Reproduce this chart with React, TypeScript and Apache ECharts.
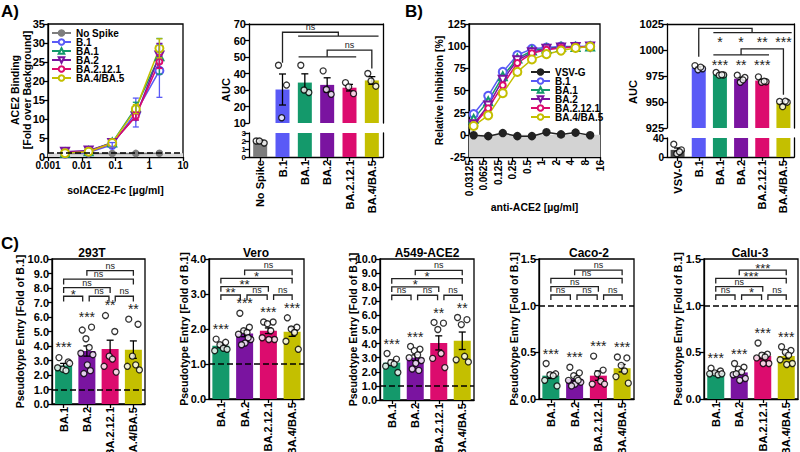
import React, { useEffect, useRef } from 'react';
import * as echarts from 'echarts';

const FONT = '"Liberation Sans", Arial, Helvetica, sans-serif';

// ---------- colours ----------
const COL_NOSPIKE = '#7d7d7d';
const COL_VSVG = '#4a4a4a';
const COL_B1 = '#5a5af6';
const COL_BA1 = '#14996b';
const COL_BA2 = '#7a14a0';
const COL_BA2121 = '#dc0c6e';
const COL_BA45 = '#c4bf00';

// ---------- Panel A left: ACE2 binding ----------
const concA = [0.0032, 0.016, 0.08, 0.4, 2];
const bindNoSpike = [0.95, 0.95, 0.9, 0.95, 1.0];
const bindB1 = [0.9, 1.2, 3.2, 11.7, 22.7];
const bindBA1 = [1.1, 1.5, 3.8, 13.0, 26.5];
const bindBA2 = [1.4, 1.7, 3.7, 10.7, 26.7];
const bindBA2121 = [1.1, 1.4, 3.6, 10.8, 25.1];
const bindBA45 = [1.0, 1.4, 3.7, 12.6, 28.6];
const errB1 = [0.1, 0.1, 0.6, 3.8, 7.0];
const errBA1 = [0.1, 0.1, 0.3, 1.4, 4.7];
const errBA2 = [0.1, 0.1, 0.3, 1.0, 3.2];
const errBA2121 = [0.1, 0.1, 0.2, 1.0, 1.8];
const errBA45 = [0.1, 0.1, 0.2, 1.2, 2.5];

// ---------- Panel A right: AUC ----------
const aucACats = ['No Spike', 'B.1', 'BA.1', 'BA.2', 'BA.2.12.1', 'BA.4/BA.5'];
const aucAMean = [2.0, 30.3, 34.5, 33.1, 31.4, 35.8];
const aucASem = [0.1, 9.4, 5.3, 4.3, 2.0, 2.3];
const aucAPts = [[2.0, 1.75, 2.0], [45, 33, 13.2], [45, 28.5, 30], [41.6, 27.4, 30.3], [34.5, 27.8, 31.9], [40, 32.3, 35.5]];

// ---------- Panel B left: inhibition ----------
const concB = [0.039, 0.078, 0.156, 0.3125, 0.625, 1.25, 2.5, 5, 10];
const inhVSVG = [-0.5, -1.5, 2, -1.5, -1.5, 3, 0.5, 2.5, -0.5];
const inhB1 = [23.5, 44, 71, 90, 97, 98.5, 99.5, 99.7, 99.8];
const inhBA1 = [18, 38, 66, 86, 95, 97.5, 99, 99.2, 99.5];
const inhBA2 = [12, 33, 62, 84, 93, 97, 98.5, 99, 99.5];
const inhBA2121 = [11, 30, 56, 81, 92, 96, 98, 99, 99.5];
const inhBA45 = [10, 22, 47, 71, 85, 91, 95, 98, 99.5];

// ---------- Panel B right: AUC ----------
const aucBCats = ['VSV-G', 'B.1', 'BA.1', 'BA.2', 'BA.2.12.1', 'BA.4/BA.5'];
const aucBMean = [15, 983, 976.6, 972.4, 970.6, 949.2];
const aucBSem = [4, 1.0, 0.6, 1.5, 1.2, 1.3];
const aucBPts = [[27, 15, 7, 11], [985, 982, 981, 983.5], [978.4, 976, 975.8, 976.2], [975.8, 973.6, 969, 971.3], [974.2, 969.5, 969, 970], [950.5, 949.8, 945.5, 950.8]];
const aucBStarsTop = ['*', '*', '**', '***'];
const aucBStarsLow = ['***', '**', '***'];

// ---------- Panel C: pseudotype entry ----------
const cVariants = ['BA.1', 'BA.2', 'BA.2.12.1', 'BA.4/BA.5'];
const cCells = ['293T', 'Vero', 'A549-ACE2', 'Caco-2', 'Calu-3'];
const cAxisMax = [10, 4, 10, 1.5, 1.5];
const cAxisStep = [1, 1, 1, 0.5, 0.5];

const c293Mean = [2.65, 3.65, 3.8, 3.75];
const c293Sem = [0.15, 0.35, 0.6, 0.6];
const c293Pts = [[3.2, 2.9, 2.4, 2.3, 2.5, 2.8], [5.1, 5.3, 4.5, 3.9, 3.5, 3.4, 2.7, 2.1, 2.3], [6.1, 5.0, 3.3, 3.1, 2.6, 2.2], [5.85, 5.5, 3.3, 2.7, 2.6, 2.35]];
const c293Stars = ['***', '***', '**', '**'];
const c293Pairs = ['*', 'ns', 'ns', 'ns', 'ns', 'ns'];

const cVeroMean = [1.52, 1.87, 1.95, 1.92];
const cVeroSem = [0.05, 0.09, 0.08, 0.13];
const cVeroPts = [[1.71, 1.62, 1.55, 1.45, 1.38, 1.42], [2.45, 2.05, 1.95, 1.9, 1.85, 1.7, 1.6, 1.55, 1.75], [2.2, 2.2, 2.15, 1.95, 1.75, 1.7, 1.7], [2.32, 2.05, 2.0, 1.9, 1.65, 1.42]];
const cVeroStars = ['***', '***', '***', '***'];
const cVeroPairs = ['**', 'ns', 'ns', '**', '*', 'ns'];

const cA549Mean = [2.65, 3.0, 4.05, 4.2];
const cA549Sem = [0.18, 0.2, 0.5, 0.62];
const cA549Pts = [[3.3, 2.9, 2.65, 2.55, 2.4, 1.95], [3.8, 3.6, 3.5, 3.2, 3.0, 2.8, 2.6, 2.2, 2.1], [5.5, 5.45, 5.0, 3.3, 2.95, 2.3], [5.85, 5.7, 5.35, 3.1, 2.85, 2.7]];
const cA549Stars = ['***', '***', '**', '**'];
const cA549Pairs = ['ns', 'ns', 'ns', '*', '*', 'ns'];

const cCacoMean = [0.25, 0.215, 0.25, 0.33];
const cCacoSem = [0.03, 0.02, 0.05, 0.04];
const cCacoPts = [[0.38, 0.27, 0.26, 0.25, 0.2, 0.14], [0.34, 0.28, 0.25, 0.22, 0.2, 0.18, 0.16, 0.14, 0.2], [0.46, 0.31, 0.27, 0.19, 0.16, 0.16], [0.45, 0.44, 0.36, 0.3, 0.24, 0.17]];
const cCacoStars = ['***', '***', '***', '***'];
const cCacoPairs = ['ns', 'ns', 'ns', 'ns', 'ns', 'ns'];

const cCaluMean = [0.285, 0.285, 0.46, 0.46];
const cCaluSem = [0.01, 0.02, 0.03, 0.03];
const cCaluPts = [[0.33, 0.3, 0.28, 0.26, 0.27, 0.27], [0.38, 0.34, 0.32, 0.29, 0.26, 0.22, 0.2, 0.27], [0.6, 0.48, 0.47, 0.45, 0.44, 0.38, 0.38], [0.56, 0.52, 0.5, 0.47, 0.42, 0.38, 0.37]];
const cCaluStars = ['***', '***', '***', '***'];
const cCaluPairs = ['ns', '*', 'ns', 'ns', '***', '***'];

// ---------- layout (not data) ----------
const JIT = [-0.2, 0.2, -0.04, 0.1, -0.26, 0.26, 0.02, -0.13, 0.15];
const PAIRS = [[0, 1], [1, 2], [2, 3], [0, 2], [0, 3], [1, 3]];
const PAIR_LEVEL = [0, 0, 0, 1, 2, 3];
const ADJ_INSET = [[0, 0.18], [0.1, 0.05], [0.22, 0]];
const C_GRIDS = [[52, 259, 93, 145], [209, 259, 95, 140], [380, 259, 94, 141], [539, 259, 95, 140], [704, 259, 94, 140]];
const C_NAMEGAP = [27, 20, 22, 20, 21];
const C_TITLE_X = [92, 256, 427, 589, 750];

const fmtNum = (v: number) => String(Number(Number(v).toPrecision(6)));

function buildOption() {
  const grid: any[] = [];
  const xAxis: any[] = [];
  const yAxis: any[] = [];
  const series: any[] = [];
  const LW = 1.3;
  const line = (show: boolean) => ({ show, onZero: false, lineStyle: { color: '#000', width: LW } });
  const tick = (show: boolean, align = false) => ({ show, length: 4, alignWithLabel: align, lineStyle: { color: '#000', width: LW } });
  const lbl = (size: number, extra: any = {}) => ({
    show: true, color: '#000', fontFamily: FONT, fontWeight: 'bold', fontSize: size, margin: 3,
    hideOverlap: false, showMinLabel: true, showMaxLabel: true, formatter: fmtNum, ...extra,
  });
  const nameTS = (size: number, extra: any = {}) => ({ color: '#000', fontFamily: FONT, fontWeight: 'bold', fontSize: size, ...extra });
  const addGrid = (l: number, t: number, w: number, h: number, border: boolean) => {
    grid.push({ left: l, top: t, width: w, height: h, show: border, borderColor: '#000', borderWidth: LW, backgroundColor: 'transparent', containLabel: false, outerBoundsMode: 'none' });
    return grid.length - 1;
  };
  const addX = (a: any) => { xAxis.push(a); return xAxis.length - 1; };
  const addY = (a: any) => { yAxis.push(a); return yAxis.length - 1; };

  const makeBarAxes = (gi: number, cats: string[], yMin: number, yMax: number, interval: number, o: any) => {
    const cx = addX({
      type: 'category', gridIndex: gi, data: cats, position: 'bottom', boundaryGap: true,
      axisLine: line(!!o.catLine), axisTick: tick(!!o.catLine, true),
      axisLabel: o.catLine ? lbl(o.catSize || 11, { rotate: 90, interval: 0, formatter: null }) : { show: false },
      splitLine: { show: false },
    });
    const vx = addX({
      type: 'value', gridIndex: gi, min: -0.5, max: cats.length - 0.5, position: 'top',
      axisLine: line(!!o.topLine), axisTick: { show: false }, axisLabel: { show: false }, splitLine: { show: false },
    });
    const y = addY({
      type: 'value', gridIndex: gi, min: yMin, max: yMax, interval, position: 'left',
      axisLine: line(true), axisTick: tick(true), axisLabel: lbl(o.ySize || 11, o.yFmt ? { formatter: o.yFmt } : {}),
      splitLine: { show: false },
      name: o.yName || '', nameLocation: 'middle', nameGap: o.yNameGap || 0, nameRotate: 90, nameMoveOverlap: false,
      nameTextStyle: nameTS(10.5),
    });
    if (o.rightLine) {
      addY({ type: 'value', gridIndex: gi, min: yMin, max: yMax, interval, position: 'right', axisLine: line(true), axisTick: { show: false }, axisLabel: { show: false }, splitLine: { show: false } });
    }
    return { cx, vx, y };
  };

  const addErr = (xi: number, yi: number, items: any[], color: string, cap: number) => {
    if (!items.length) return;
    series.push({
      type: 'custom', xAxisIndex: xi, yAxisIndex: yi, silent: true, z: 4,
      data: items.map((d) => [d.x, d.y]),
      renderItem: (params: any, api: any) => {
        const d = items[params.dataIndex];
        const t = api.coord([d.x, d.y + d.e]);
        const b = api.coord([d.x, d.y - d.e]);
        const st = { stroke: color, lineWidth: LW, fill: 'none' };
        return {
          type: 'group', children: [
            { type: 'line', shape: { x1: t[0], y1: t[1], x2: b[0], y2: b[1] }, style: st },
            { type: 'line', shape: { x1: t[0] - cap, y1: t[1], x2: t[0] + cap, y2: t[1] }, style: st },
            { type: 'line', shape: { x1: b[0] - cap, y1: b[1], x2: b[0] + cap, y2: b[1] }, style: st },
          ],
        };
      },
    });
  };

  const addLines = (xi: number, yi: number, lines: number[][][]) => {
    series.push({
      type: 'custom', xAxisIndex: xi, yAxisIndex: yi, silent: true, z: 6,
      data: lines.map((l) => l[0]),
      renderItem: (params: any, api: any) => {
        const pts = lines[params.dataIndex].map((p) => api.coord(p));
        return { type: 'polyline', shape: { points: pts }, style: { stroke: '#222', lineWidth: LW, fill: 'none' } };
      },
    });
  };

  const addTexts = (xi: number, yi: number, items: any[]) => {
    series.push({
      type: 'custom', xAxisIndex: xi, yAxisIndex: yi, silent: true, z: 7,
      data: items.map((t) => [t.x, t.y]),
      renderItem: (params: any, api: any) => {
        const t = items[params.dataIndex];
        const p = api.coord([t.x, t.y]);
        const va = t.va || 'bottom';
        return {
          type: 'text', x: p[0], y: p[1] + (t.dy || 0),
          style: {
            text: t.text, fill: '#222', textFill: '#222', fontSize: t.size, fontFamily: FONT, fontWeight: t.weight || 'normal',
            align: 'center', textAlign: 'center', verticalAlign: va, textVerticalAlign: va,
          },
        };
      },
    });
  };

  const addBarSet = (ax: any, means: number[], sems: number[], pts: number[][], colors: string[], barWidth: number, spread: number, yMin: number, yMax: number, cap: number, extra: any = {}) => {
    series.push({
      type: 'bar', xAxisIndex: ax.cx, yAxisIndex: ax.y, barWidth, clip: true, silent: true, z: 2,
      data: means.map((v, i) => ({ value: v, itemStyle: { color: colors[i] } })),
      ...extra,
    });
    const errItems: any[] = [];
    means.forEach((m, i) => {
      if (m - sems[i] >= yMin && m + sems[i] <= yMax) errItems.push({ x: i, y: m, e: sems[i] });
    });
    addErr(ax.vx, ax.y, errItems, '#000', cap);
    const dots: number[][] = [];
    pts.forEach((arr, i) => arr.forEach((v, k) => {
      if (v >= yMin && v <= yMax) dots.push([i + JIT[k % JIT.length] * spread, v]);
    }));
    series.push({
      type: 'scatter', xAxisIndex: ax.vx, yAxisIndex: ax.y, data: dots, symbol: 'circle', symbolSize: 6, clip: true, silent: true, z: 5,
      itemStyle: { color: '#fff', borderColor: '#000', borderWidth: 1.3 },
    });
  };

  const dashed1 = (y: number) => ({
    silent: true, symbol: ['none', 'none'], label: { show: false },
    lineStyle: { color: '#000', type: 'dashed', width: 1.5 }, data: [{ yAxis: y }],
  });

  // ================= Panel A left =================
  const gA = addGrid(48, 24, 135, 133, true);
  const xA = addX({
    type: 'log', logBase: 10, gridIndex: gA, min: 0.001, max: 10, position: 'bottom',
    axisLine: line(true), axisTick: tick(true), axisLabel: lbl(10),
    splitLine: { show: false }, name: 'solACE2-Fc [µg/ml]', nameLocation: 'middle', nameGap: 27, nameMoveOverlap: false, nameTextStyle: nameTS(10.5),
  });
  const yA = addY({
    type: 'value', gridIndex: gA, min: 0, max: 35, interval: 5,
    axisLine: line(true), axisTick: tick(true), axisLabel: lbl(11), splitLine: { show: false },
  });
  const aDefs = [
    { name: 'No Spike', vals: bindNoSpike, errs: null, color: COL_NOSPIKE, symbol: 'circle', size: 6, rot: 0 },
    { name: 'B.1', vals: bindB1, errs: errB1, color: COL_B1, symbol: 'emptyCircle', size: 8, rot: 0 },
    { name: 'BA.1', vals: bindBA1, errs: errBA1, color: COL_BA1, symbol: 'emptyTriangle', size: 8, rot: 0 },
    { name: 'BA.2', vals: bindBA2, errs: errBA2, color: COL_BA2, symbol: 'emptyTriangle', size: 8, rot: 180 },
    { name: 'BA.2.12.1', vals: bindBA2121, errs: errBA2121, color: COL_BA2121, symbol: 'emptyCircle', size: 6, rot: 0 },
    { name: 'BA.4/BA.5', vals: bindBA45, errs: errBA45, color: COL_BA45, symbol: 'emptyCircle', size: 8, rot: 0 },
  ];
  aDefs.forEach((d, k) => {
    const s: any = {
      type: 'line', name: d.name, xAxisIndex: xA, yAxisIndex: yA, z: 3, silent: true,
      data: concA.map((c, i) => [c, d.vals[i]]),
      symbol: d.symbol, symbolSize: d.size, symbolRotate: d.rot, showAllSymbol: true,
      lineStyle: { color: d.color, width: 1.5 }, itemStyle: { color: d.color, borderColor: d.color, borderWidth: 1.5 },
    };
    if (k === 0) {
      s.markLine = dashed1(1);
      s.markArea = { silent: true, itemStyle: { color: '#d9d9d9' }, data: [[{ yAxis: 0 }, { yAxis: 1 }]] };
    }
    series.push(s);
    if (d.errs) {
      const items = concA.map((c, i) => ({ x: c, y: d.vals[i], e: (d.errs as number[])[i] })).filter((it) => it.e >= 0.5);
      addErr(xA, yA, items, d.color, 3);
    }
  });

  // ================= Panel A right =================
  const aucAColors = [COL_NOSPIKE, COL_B1, COL_BA1, COL_BA2, COL_BA2121, COL_BA45];
  const gAu = addGrid(249, 24, 134, 99, false);
  const gAl = addGrid(249, 133, 134, 24, false);
  const au = makeBarAxes(gAu, aucACats, 10, 70, 10, { catLine: false, topLine: true, rightLine: true, ySize: 11 });
  const al = makeBarAxes(gAl, aucACats, 0, 3, 1, { catLine: true, topLine: false, rightLine: true, ySize: 8, catSize: 11 });
  addBarSet(au, aucAMean, aucASem, aucAPts, aucAColors, 14, 0.9, 10, 70, 3.5);
  addBarSet(al, aucAMean, aucASem, aucAPts, aucAColors, 14, 0.9, 0, 3, 3.5);
  addLines(au.vx, au.y, [
    [[1, 46.5], [1, 65], [3.5, 65], [3.5, 62.7]],
    [[1.7, 62.7], [5.3, 62.7]],
    [[1.72, 50.1], [4.3, 50.1]],
    [[3, 50.1], [3, 54.2], [5, 54.2], [5, 43]],
  ]);
  addTexts(au.vx, au.y, [
    { x: 2.25, y: 65, text: 'ns', size: 9, dy: -0.5 },
    { x: 4, y: 54.2, text: 'ns', size: 9, dy: -0.5 },
  ]);

  // ================= Panel B left =================
  const gB = addGrid(469, 24, 131, 133, true);
  const xB = addX({
    type: 'log', logBase: 2, gridIndex: gB, min: 0.03125, max: 16, position: 'bottom',
    axisLine: line(true), axisTick: tick(true), axisLabel: lbl(10, { rotate: 90 }),
    splitLine: { show: false }, name: 'anti-ACE2 [µg/ml]', nameLocation: 'middle', nameGap: 44, nameMoveOverlap: false, nameTextStyle: nameTS(10.5),
  });
  const yB = addY({
    type: 'value', gridIndex: gB, min: -25, max: 125, interval: 25,
    axisLine: line(true), axisTick: tick(true), axisLabel: lbl(11), splitLine: { show: false },
    name: 'Relative Inhibition [%]', nameLocation: 'middle', nameGap: 25, nameRotate: 90, nameMoveOverlap: false, nameTextStyle: nameTS(10.5),
  });
  const bDefs = [
    { name: 'VSV-G', vals: inhVSVG, color: '#222', symbol: 'circle', size: 7, rot: 0 },
    { name: 'B.1', vals: inhB1, color: COL_B1, symbol: 'emptyCircle', size: 8, rot: 0 },
    { name: 'BA.1', vals: inhBA1, color: COL_BA1, symbol: 'emptyTriangle', size: 8, rot: 0 },
    { name: 'BA.2', vals: inhBA2, color: COL_BA2, symbol: 'emptyTriangle', size: 8, rot: 180 },
    { name: 'BA.2.12.1', vals: inhBA2121, color: COL_BA2121, symbol: 'emptyCircle', size: 6, rot: 0 },
    { name: 'BA.4/BA.5', vals: inhBA45, color: COL_BA45, symbol: 'emptyCircle', size: 8, rot: 0 },
  ];
  bDefs.forEach((d, k) => {
    const s: any = {
      type: 'line', name: d.name, xAxisIndex: xB, yAxisIndex: yB, z: 3, silent: true,
      data: concB.map((c, i) => [c, d.vals[i]]),
      symbol: d.symbol, symbolSize: d.size, symbolRotate: d.rot, showAllSymbol: true,
      lineStyle: { color: d.color, width: 1.5 }, itemStyle: { color: d.color, borderColor: d.color, borderWidth: 1.5 },
    };
    if (k === 0) {
      s.markArea = { silent: true, itemStyle: { color: '#d3d3d3' }, data: [[{ yAxis: -25 }, { yAxis: 0 }]] };
    }
    series.push(s);
  });

  // ================= Panel B right =================
  const aucBColors = [COL_VSVG, COL_B1, COL_BA1, COL_BA2, COL_BA2121, COL_BA45];
  const gBu = addGrid(667, 24, 127, 104, false);
  const gBl = addGrid(667, 138, 127, 19, false);
  const bu = makeBarAxes(gBu, aucBCats, 925, 1025, 25, { catLine: false, topLine: true, rightLine: true, ySize: 11 });
  const bl = makeBarAxes(gBl, aucBCats, 0, 40, 20, { catLine: true, topLine: false, rightLine: true, ySize: 10, catSize: 11 });
  addBarSet(bu, aucBMean, aucBSem, aucBPts, aucBColors, 14, 0.9, 925, 1025, 3.5);
  addBarSet(bl, aucBMean, aucBSem, aucBPts, aucBColors, 14, 0.9, 0, 40, 3.5);
  addLines(bu.vx, bu.y, [
    [[1, 993.5], [1, 1020.8], [3.52, 1020.8], [3.52, 1016.7]],
    [[1.69, 1016.7], [5.39, 1016.7]],
    [[1.69, 995.3], [4.32, 995.3]],
    [[3, 995.3], [3, 1001], [5, 1001], [5, 957]],
  ]);
  addTexts(bu.vx, bu.y, [
    ...aucBStarsTop.map((s, i) => ({ x: i + 2, y: 1008, text: s, size: 14, va: 'middle' })),
    ...aucBStarsLow.map((s, i) => ({ x: i + 2, y: 986, text: s, size: 14, va: 'middle' })),
  ]);

  // ================= Panel C =================
  const cColors = [COL_BA1, COL_BA2, COL_BA2121, COL_BA45];
  const cData = [
    { mean: c293Mean, sem: c293Sem, pts: c293Pts, stars: c293Stars, pairs: c293Pairs },
    { mean: cVeroMean, sem: cVeroSem, pts: cVeroPts, stars: cVeroStars, pairs: cVeroPairs },
    { mean: cA549Mean, sem: cA549Sem, pts: cA549Pts, stars: cA549Stars, pairs: cA549Pairs },
    { mean: cCacoMean, sem: cCacoSem, pts: cCacoPts, stars: cCacoStars, pairs: cCacoPairs },
    { mean: cCaluMean, sem: cCaluSem, pts: cCaluPts, stars: cCaluStars, pairs: cCaluPairs },
  ];
  cData.forEach((d, p) => {
    const [l, t, w, h] = C_GRIDS[p];
    const max = cAxisMax[p];
    const gi = addGrid(l, t, w, h, true);
    const ax = makeBarAxes(gi, cVariants, 0, max, cAxisStep[p], {
      catLine: true, topLine: false, rightLine: false, ySize: 11, catSize: 11,
      yFmt: (v: number) => v.toFixed(1), yName: 'Pseudotype Entry [Fold of B.1]', yNameGap: C_NAMEGAP[p],
    });
    addBarSet(ax, d.mean, d.sem, d.pts, cColors, 17, 1, 0, max, 3.5, { markLine: dashed1(1) });
    const lines: number[][][] = [];
    const texts: any[] = [];
    PAIRS.forEach(([a, b], k) => {
      const yv = max * (0.743 + 0.059 * PAIR_LEVEL[k]);
      const drop = max * 0.036;
      const x1 = a + (k < 3 ? ADJ_INSET[k][0] : 0);
      const x2 = b - (k < 3 ? ADJ_INSET[k][1] : 0);
      lines.push([[x1, yv - drop], [x1, yv], [x2, yv], [x2, yv - drop]]);
      const lab = d.pairs[k];
      if (lab === 'ns') texts.push({ x: (x1 + x2) / 2, y: yv, text: lab, size: 9, dy: -0.5 });
      else texts.push({ x: (x1 + x2) / 2, y: yv, text: lab, size: 13, va: 'middle', dy: -2 });
    });
    d.stars.forEach((s, i) => {
      texts.push({ x: i, y: Math.max(...d.pts[i]) + max * 0.07, text: s, size: 14, va: 'middle' });
    });
    addLines(ax.vx, ax.y, lines);
    addTexts(ax.vx, ax.y, texts);
  });

  // ================= legends & texts =================
  const legendText = { fontFamily: FONT, fontWeight: 'bold', fontSize: 10, color: '#000', lineHeight: 8 };
  const legend = [
    { left: 51, top: 28, orient: 'vertical', itemWidth: 19, itemHeight: 7, itemGap: -1, padding: 0, selectedMode: false, data: aDefs.map((d) => d.name), textStyle: legendText },
    { left: 530, top: 67, orient: 'vertical', itemWidth: 19, itemHeight: 7, itemGap: -1, padding: 0, selectedMode: false, data: bDefs.map((d) => d.name), textStyle: legendText },
  ];

  const txt = (text: string, x: number, y: number, size: number, align = 'left', va = 'top', rot = 0) => ({
    type: 'text', x, y, rotation: rot, silent: true,
    style: { text, fill: '#000', fontFamily: FONT, fontWeight: 'bold', fontSize: size, align, textAlign: align, verticalAlign: va, textVerticalAlign: va },
  });
  const graphic = [
    txt('A)', 1, 3, 17),
    txt('B)', 405, 3, 17),
    txt('C)', 1, 235, 17),
    txt('ACE2 Binding', 15, 90, 10.5, 'center', 'middle', Math.PI / 2),
    txt('[Fold over Background]', 27, 90, 10.5, 'center', 'middle', Math.PI / 2),
    txt('AUC', 226, 90, 11, 'center', 'middle', Math.PI / 2),
    txt('AUC', 633, 92, 11, 'center', 'middle', Math.PI / 2),
    ...cCells.map((c, i) => txt(c, C_TITLE_X[i], 253, 12, 'center', 'middle')),
  ];

  return { animation: false, backgroundColor: '#fff', grid, xAxis, yAxis, series, legend, graphic };
}

export default function App() {
  const ref = useRef<HTMLDivElement>(null);
  useEffect(() => {
    document.body.style.margin = '0';
    const chart = echarts.init(ref.current as HTMLDivElement, null, { renderer: 'svg' });
    chart.setOption(buildOption() as any);
    return () => chart.dispose();
  }, []);
  return <div ref={ref} style={{ position: 'absolute', left: 0, top: 0, width: 800, height: 452 }} />;
}
